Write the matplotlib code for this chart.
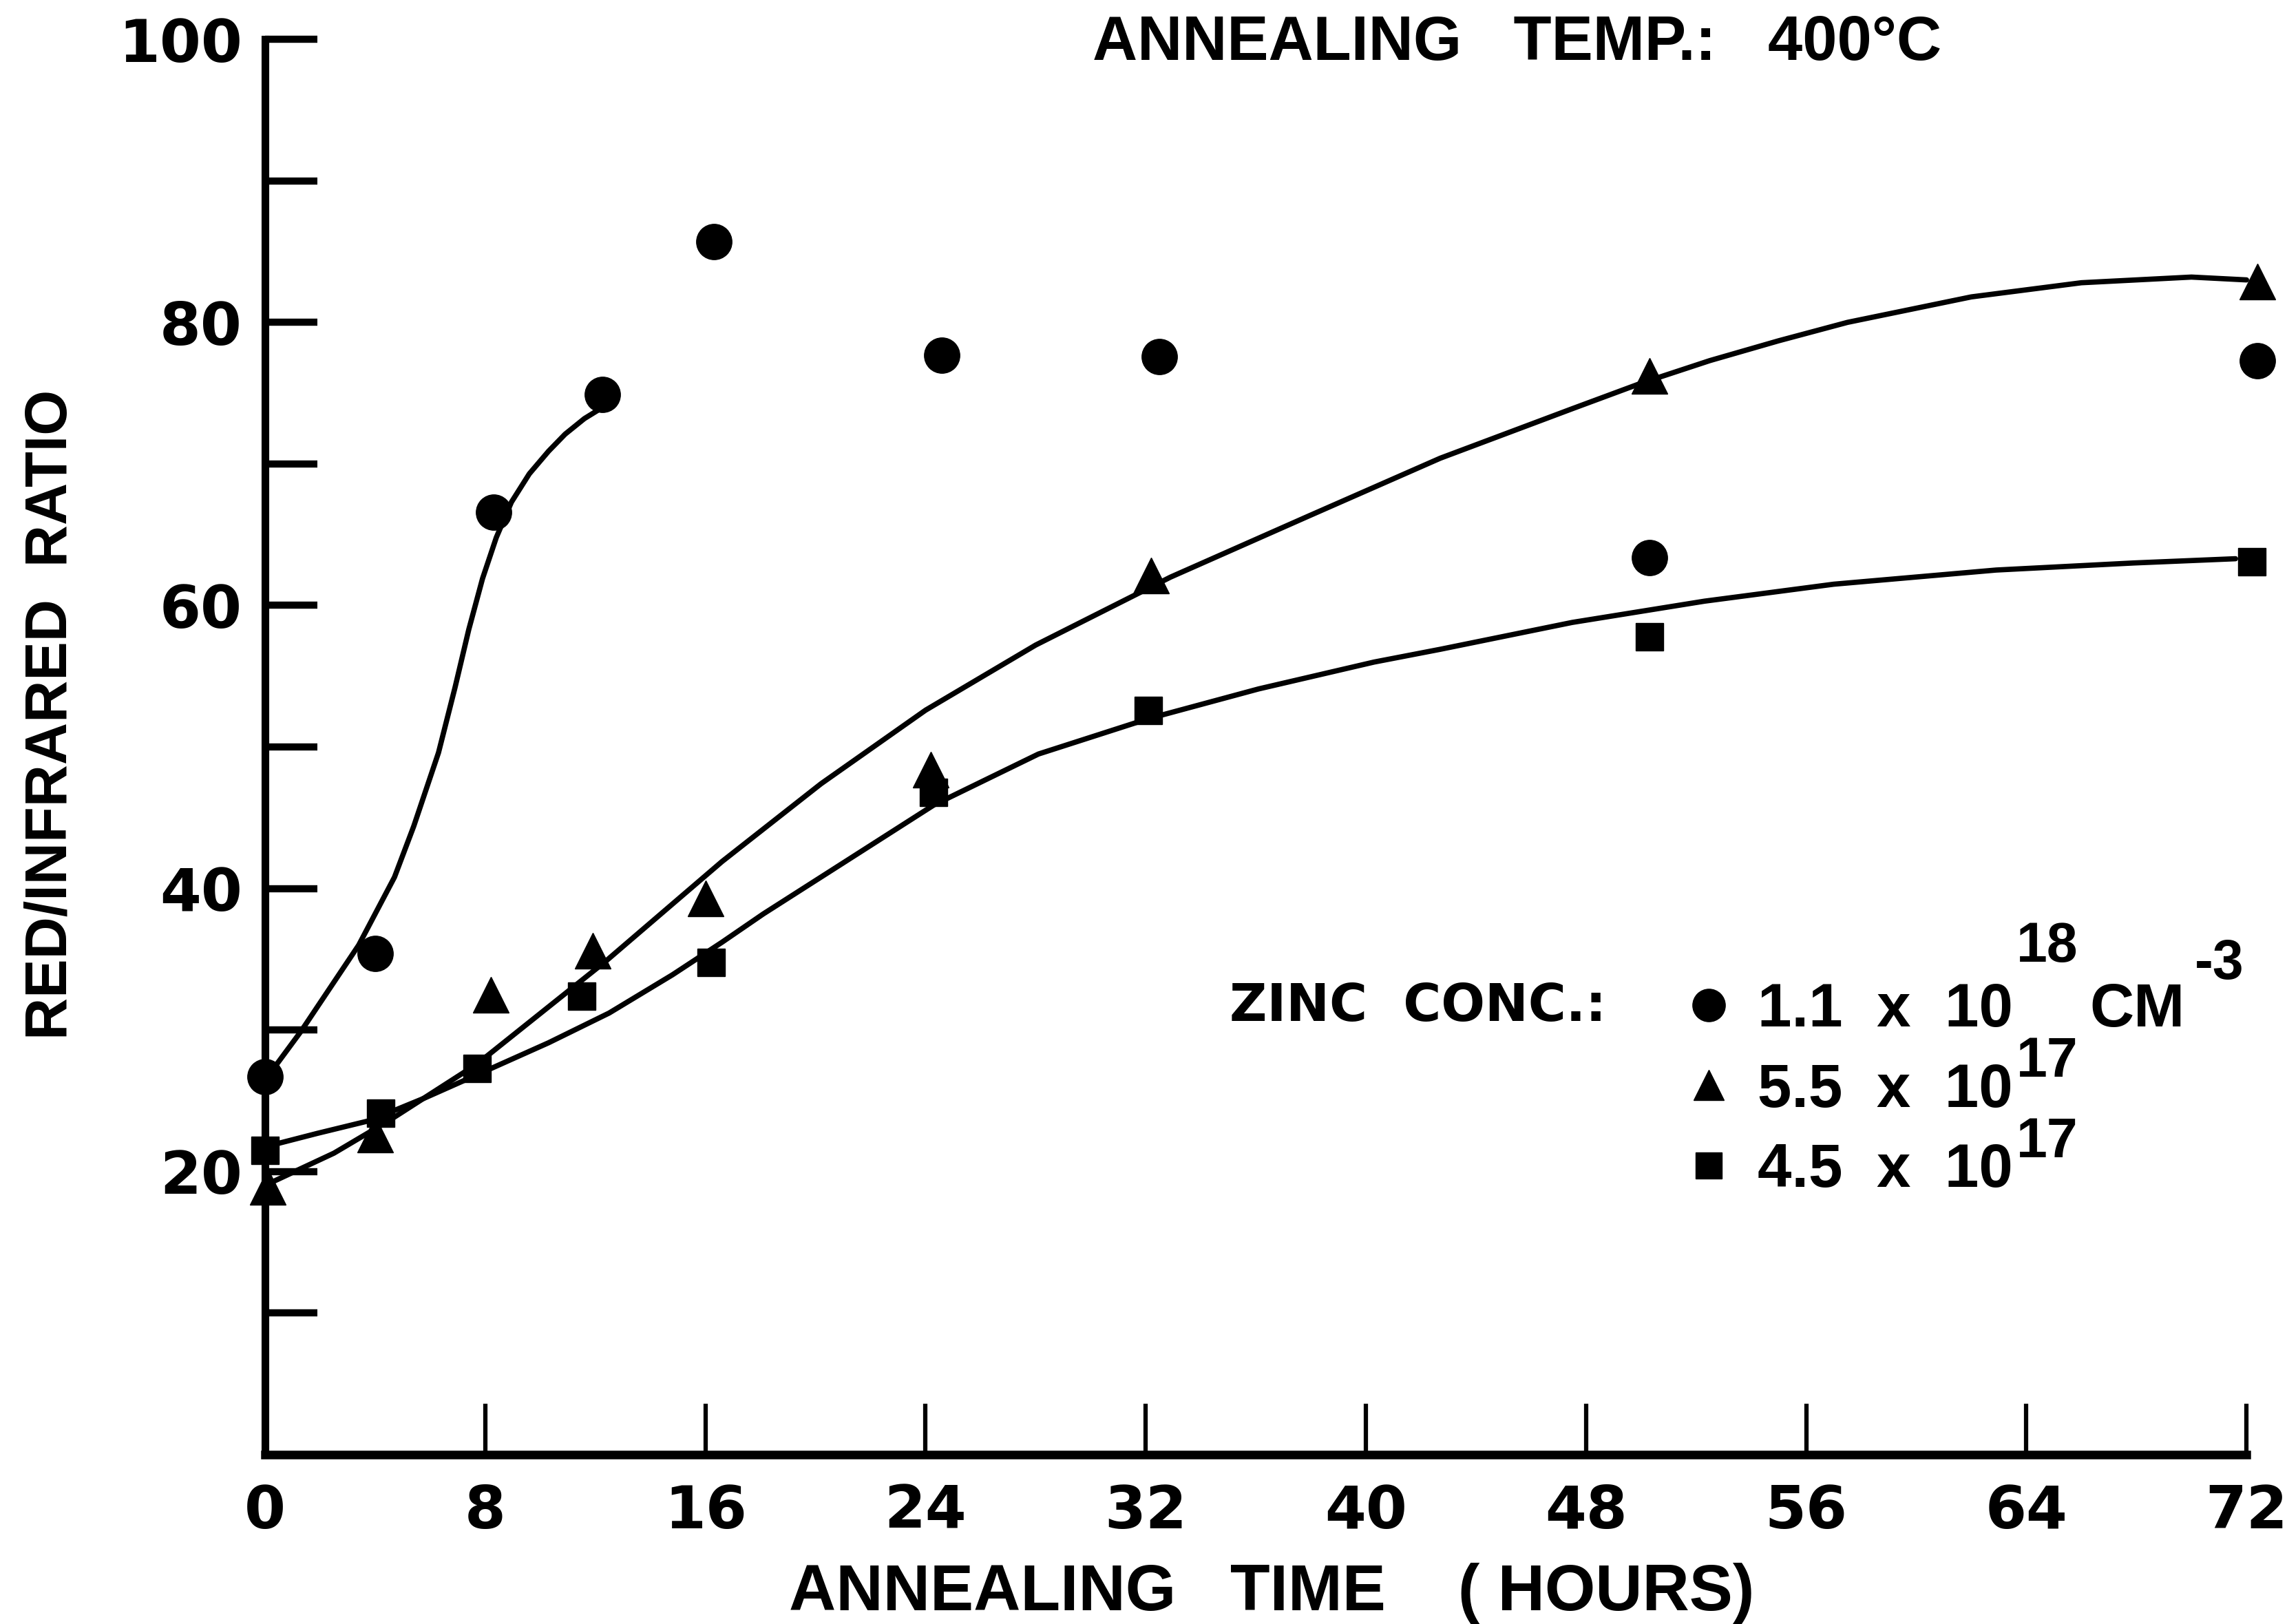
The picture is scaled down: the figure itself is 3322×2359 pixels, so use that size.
import matplotlib
matplotlib.use("Agg")
import matplotlib.pyplot as plt
from matplotlib.lines import Line2D
from matplotlib import font_manager
from matplotlib.font_manager import FontProperties

# ---------------- data ----------------
# measured points: annealing time (hours) vs red/infrared ratio
t_circle = [0.0, 4.0, 8.3, 12.25, 16.3, 24.6, 32.5, 50.3, 72.4]
r_circle = [26.7, 35.4, 66.6, 74.9, 85.7, 77.7, 77.6, 63.4, 77.3]

t_tri = [0.1, 4.0, 8.2, 11.9, 16.0, 24.2, 32.2, 50.3, 72.4]
r_tri = [18.9, 22.6, 32.5, 35.6, 39.3, 48.4, 62.1, 76.2, 82.9]

t_sq = [0.0, 4.2, 7.7, 11.5, 16.2, 24.3, 32.1, 50.3, 72.2]
r_sq = [21.5, 24.1, 27.3, 32.4, 34.8, 46.8, 52.6, 57.8, 63.1]

# hand-drawn guide curves
curve_circle_t = [0.2, 1.3, 3.4, 4.7, 5.4, 6.3, 6.9, 7.4, 7.9, 8.4, 8.95, 9.6,
                  10.3, 10.9, 11.6, 12.1]
curve_circle_r = [27.0, 29.9, 36.0, 40.8, 44.4, 49.6, 54.2, 58.3, 61.9, 64.8, 67.3, 69.3,
                  70.9, 72.1, 73.2, 73.8]

curve_tri_t = [0.3, 2.5, 4.5, 7.7, 12.4, 16.6, 20.2, 24.0, 28.0, 32.9, 37.9,
               42.7, 47.5, 50.0, 52.5, 55.0, 57.5, 62.0, 66.0, 70.0, 72.0]
curve_tri_r = [19.3, 21.3, 23.6, 27.6, 34.9, 41.9, 47.4, 52.6, 57.2, 62.0, 66.3,
               70.4, 73.9, 75.7, 77.3, 78.7, 80.0, 81.8, 82.8, 83.2, 83.0]

curve_sq_t = [0.3, 1.9, 3.8, 5.8, 8.0, 10.3, 12.5, 14.8, 16.6, 18.1, 21.0, 24.3,
              28.1, 32.1, 36.1, 40.3, 42.7, 47.5, 52.3, 57.0, 62.9, 67.9, 71.6]
curve_sq_r = [21.9, 22.7, 23.6, 25.2, 27.1, 29.1, 31.2, 33.9, 36.2, 38.2, 41.8, 45.9,
              49.5, 52.0, 54.1, 56.0, 56.9, 58.8, 60.3, 61.5, 62.5, 63.0, 63.3]

x_ticks = [0, 8, 16, 24, 32, 40, 48, 56, 64, 72]
x_ticklabels = ["0", "8", "16", "24", "32", "40", "48", "56", "64", "72"]
y_ticks = [10, 20, 30, 40, 50, 60, 70, 80, 90, 100]
y_ticklabels = ["", "20", "", "40", "", "60", "", "80", "", "100"]

legend_labels = ["1.1  x  10", "5.5  x  10", "4.5  x  10"]
legend_exponents = ["18", "17", "17"]

# ---------------- fonts ----------------
available = {f.name for f in font_manager.fontManager.ttflist}
NARROW = "Liberation Sans Narrow" if "Liberation Sans Narrow" in available else "Liberation Sans"

fp_tick = FontProperties(family="DejaVu Sans", weight="bold", size=62)
fp_title = FontProperties(family=[NARROW, "DejaVu Sans"], weight="bold", size=65)
fp_xlabel = FontProperties(family=[NARROW, "DejaVu Sans"], weight="bold", size=68)
fp_ylabel = FontProperties(family=[NARROW, "DejaVu Sans"], weight="bold", size=61)
fp_zinc = FontProperties(family="DejaVu Sans", weight="bold", size=54)
fp_leg = FontProperties(family=[NARROW, "DejaVu Sans"], weight="bold", size=64)
fp_sup = FontProperties(family=[NARROW, "DejaVu Sans"], weight="bold", size=58)

# ---------------- figure ----------------
fig = plt.figure(figsize=(33.23, 23.59), dpi=100)
ax = fig.add_axes([0.1159, 0.1043, 0.982 - 0.1159, 0.9758 - 0.1043])

line_kw = dict(color="black", lw=5.5, solid_capstyle="round", solid_joinstyle="round",
               zorder=3, clip_on=False)
ax.plot(curve_circle_t, curve_circle_r, **line_kw)
ax.plot(curve_tri_t, curve_tri_r, **line_kw)
ax.plot(curve_sq_t, curve_sq_r, **line_kw)

ax.plot(t_circle, r_circle, ls="none", marker="o", ms=37, color="black", clip_on=False, zorder=4)
ax.plot(t_tri, r_tri, ls="none", marker="^", ms=38, color="black", clip_on=False, zorder=4)
ax.plot(t_sq, r_sq, ls="none", marker="s", ms=29, color="black", clip_on=False, zorder=4)

ax.set_xlim(0, 72)
ax.set_ylim(0, 100)

for side in ("top", "right"):
    ax.spines[side].set_visible(False)
ax.spines["left"].set_linewidth(8)
ax.spines["bottom"].set_linewidth(9)

ax.set_xticks(x_ticks)
ax.set_xticklabels(x_ticklabels, fontproperties=fp_tick)
ax.set_yticks(y_ticks)
ax.set_yticklabels(y_ticklabels, fontproperties=fp_tick)
ax.tick_params(axis="x", direction="in", length=53, width=4.5, pad=30, color="black")
ax.tick_params(axis="y", direction="in", length=55, width=7.5, pad=24, color="black")

# axis labels
ax.set_xlabel("ANNEALING   TIME    ( HOURS)", fontproperties=fp_xlabel)
ax.xaxis.set_label_coords(0.508, -0.098)
ax.xaxis.label.set_va("center")
ax.set_ylabel("RED/INFRARED  RATIO", fontproperties=fp_ylabel)
ax.yaxis.set_label_coords(-0.108, 0.523)
ax.yaxis.label.set_va("center")
ax.yaxis.label.set_ha("center")

# title annotation
ax.text(45.5, 99.7, "ANNEALING   TEMP.:   400°C", fontproperties=fp_title,
        ha="center", va="center", clip_on=False)

# legend
handles = [
    Line2D([], [], ls="none", marker="o", ms=34, color="black"),
    Line2D([], [], ls="none", marker="^", ms=32, color="black"),
    Line2D([], [], ls="none", marker="s", ms=27, color="black"),
]
leg = ax.legend(handles, legend_labels, loc="center left", bbox_to_anchor=(0.713, 0.257),
                frameon=False, handlelength=1.0, handletextpad=0.3, labelspacing=0.37,
                borderpad=0, borderaxespad=0, prop=fp_leg, numpoints=1)
texts = leg.get_texts()

ax.text(35.05, 31.65, "ZINC  CONC.:", fontproperties=fp_zinc, ha="left", va="center")

sup_dy = [66, 30, 30]
sups = []
for i, txt in enumerate(texts):
    s = ax.annotate(legend_exponents[i], xy=(1.0, 0.5), xycoords=txt, xytext=(4, sup_dy[i]),
                    textcoords="offset points", ha="left", va="center",
                    fontproperties=fp_sup, zorder=6)
    sups.append(s)

cm = ax.annotate("CM", xy=(1.0, 0.5), xycoords=(sups[0], texts[0]), xytext=(12, 0),
                 textcoords="offset points", ha="left", va="center",
                 fontproperties=fp_leg, zorder=7)
ax.annotate("-3", xy=(1.0, 0.5), xycoords=(cm, texts[0]), xytext=(10, 48),
            textcoords="offset points", ha="left", va="center",
            fontproperties=fp_sup, zorder=8)

fig.canvas.draw()
fig.savefig("out.png", dpi=100, facecolor="white")
